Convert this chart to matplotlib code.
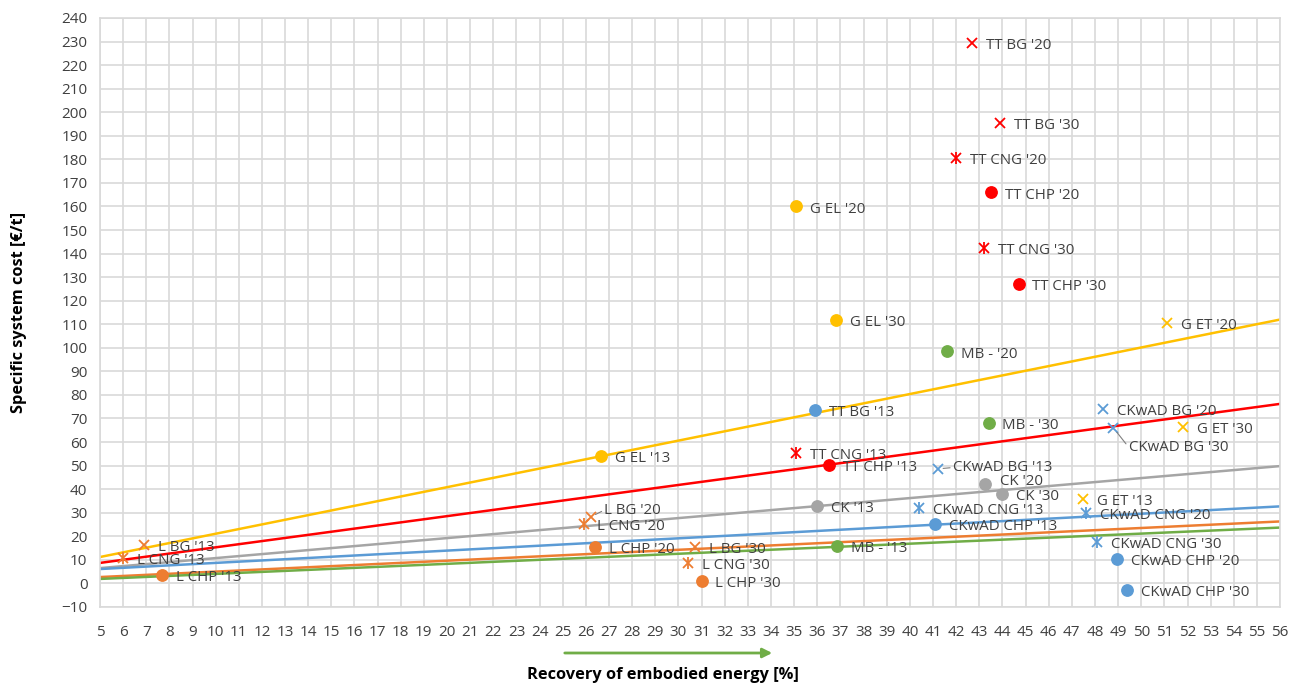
import numpy as np
import matplotlib.pyplot as plt
from matplotlib.patches import FancyArrowPatch

# --- values (x: recovery of embodied energy [%], y: cost [EUR/t]) ---
l_labels = ["L BG '13", "L CNG '13", "L CHP '13", "L BG '20", "L CNG '20",
            "L CHP '20", "L BG '30", "L CNG '30", "L CHP '30"]
l_energy = [6.9, 6.0, 7.7, 26.2, 25.9, 26.4, 30.7, 30.4, 31.0]
l_cost = [16.3, 10.8, 3.6, 28.2, 25.2, 15.5, 15.5, 8.7, 1.0]

tt_labels = ["TT CNG '13", "TT CHP '13", "TT BG '20", "TT CNG '20",
             "TT CHP '20", "TT BG '30", "TT CNG '30", "TT CHP '30"]
tt_energy = [35.1, 36.5, 42.7, 42.0, 43.5, 43.9, 43.2, 44.7]
tt_cost = [55.3, 50.2, 229.5, 180.5, 166.0, 195.5, 142.5, 127.0]

# this one is drawn as a blue dot in the original
odd_labels = ["TT BG '13"]
odd_energy = [35.9]
odd_cost = [73.6]

g_labels = ["G EL '13", "G EL '20", "G EL '30", "G ET '13", "G ET '20", "G ET '30"]
g_energy = [26.65, 35.1, 36.8, 47.5, 51.1, 51.8]
g_cost = [54.0, 160.0, 112.0, 35.8, 110.5, 66.5]

mb_labels = ["MB - '13", "MB - '20", "MB - '30"]
mb_energy = [36.85, 41.6, 43.4]
mb_cost = [15.9, 98.5, 68.0]

ck_labels = ["CK '13", "CK '20", "CK '30"]
ck_energy = [36.0, 43.25, 44.0]
ck_cost = [32.9, 42.2, 38.0]

ckwad_labels = ["CKwAD BG '13", "CKwAD CNG '13", "CKwAD CHP '13",
                "CKwAD BG '20", "CKwAD CNG '20", "CKwAD CHP '20",
                "CKwAD BG '30", "CKwAD CNG '30", "CKwAD CHP '30"]
ckwad_energy = [41.2, 40.4, 41.1, 48.35, 47.6, 48.95, 48.8, 48.1, 49.4]
ckwad_cost = [48.6, 32.0, 25.2, 74.0, 29.9, 10.4, 66.0, 17.6, -2.8]

# linear trend lines: value at x=5 and at x=56
trend_names = ["G", "TT", "CK", "CKwAD", "L", "MB"]
trend_start = [11.2, 8.7, 6.5, 6.1, 2.7, 1.9]
trend_end = [112.0, 76.2, 49.8, 32.7, 26.3, 23.7]

x_ticks = list(range(5, 57))
y_ticks = list(range(-10, 241, 10))

colors = {"L": "#ED7D31", "TT": "#FF0000", "G": "#FFC000", "MB": "#70AD47",
          "CK": "#A5A5A5", "CKwAD": "#5B9BD5"}

plt.rcParams['font.family'] = ['Open Sans', 'DejaVu Sans']

fig = plt.figure(figsize=(12.93, 6.86), dpi=100)
ax = fig.add_axes([0.0773, 0.1152, 0.9127, 0.8586])

# --- trend lines ---
for name, y0, y1 in zip(trend_names, trend_start, trend_end):
    ax.plot([x_ticks[0], x_ticks[-1]], [y0, y1], color=colors[name], lw=1.8, zorder=2)


def kind(label):
    if 'CNG' in label:
        return 'star'
    if 'BG' in label or 'ET' in label:
        return 'x'
    return 'dot'


def draw_series(labels, xs, ys, color, force_dot=False):
    for lab, x, y in zip(labels, xs, ys):
        k = 'dot' if force_dot else kind(lab)
        if k == 'dot':
            ax.plot(x, y, 'o', ms=8.2, color=color, mec=color, zorder=4)
        elif k == 'x':
            ax.plot(x, y, 'x', ms=7.5, mew=1.3, color=color, zorder=4)
        else:
            ax.plot(x, y, 'x', ms=6.5, mew=1.3, color=color, zorder=4)
            ax.plot(x, y, '|', ms=8.5, mew=1.3, color=color, zorder=4)


draw_series(l_labels, l_energy, l_cost, colors["L"])
draw_series(tt_labels, tt_energy, tt_cost, colors["TT"])
draw_series(odd_labels, odd_energy, odd_cost, colors["CKwAD"], force_dot=True)
draw_series(g_labels, g_energy, g_cost, colors["G"])
draw_series(mb_labels, mb_energy, mb_cost, colors["MB"])
draw_series(ck_labels, ck_energy, ck_cost, colors["CK"])
draw_series(ckwad_labels, ckwad_energy, ckwad_cost, colors["CKwAD"])

# --- data labels (offsets in points, leader lines for a few) ---
special = {"L BG '20": (10, 5), "CKwAD BG '30": (11, -14),
           "CKwAD BG '13": (11, 1), "CK '20": (11, 2)}
leaders = {"L BG '20", "CKwAD BG '30", "CKwAD BG '13"}

all_labels = l_labels + tt_labels + odd_labels + g_labels + mb_labels + ck_labels + ckwad_labels
all_x = l_energy + tt_energy + odd_energy + g_energy + mb_energy + ck_energy + ckwad_energy
all_y = l_cost + tt_cost + odd_cost + g_cost + mb_cost + ck_cost + ckwad_cost

for lab, x, y in zip(all_labels, all_x, all_y):
    off = special.get(lab, (10, -2))
    arrow = None
    if lab in leaders:
        arrow = dict(arrowstyle='-', color='#7F7F7F', lw=0.8, shrinkA=0, shrinkB=4,
                     relpos=(0, 0.5))
    ax.annotate(lab, (x, y), xytext=off, textcoords='offset points',
                ha='left', va='center', fontsize=10.8, color='#404040',
                arrowprops=arrow, zorder=5)

# --- axes styling ---
ax.set_xlim(x_ticks[0], x_ticks[-1])
ax.set_ylim(y_ticks[0], y_ticks[-1])
ax.set_xticks(x_ticks)
ax.set_yticks(y_ticks)
ax.tick_params(length=0, labelsize=11, colors='#404040')
ax.tick_params(axis='x', pad=13)
ax.tick_params(axis='y', pad=9)
ax.grid(True, color='#D9D9D9', lw=1.2, zorder=0)
ax.set_axisbelow(True)
for s in ax.spines.values():
    s.set_color('#D9D9D9')
    s.set_linewidth(1.2)

ax.set_ylabel('Specific system cost [€/t]', fontsize=11.8, fontweight='bold')
ax.yaxis.set_label_coords(-(100 - 27) / 1180, 0.5)
fig.text(663 / 1293, 1 - 675 / 686, 'Recovery of embodied energy [%]',
         ha='center', va='center', fontsize=11.8, fontweight='bold')

# green arrow under the x axis
fig.patches.append(FancyArrowPatch(
    (562 / 1293, 1 - 653 / 686), (775 / 1293, 1 - 653 / 686),
    transform=fig.transFigure, arrowstyle='-|>', mutation_scale=14,
    color='#70AD47', lw=2))

fig.savefig('out.png', dpi=100)
